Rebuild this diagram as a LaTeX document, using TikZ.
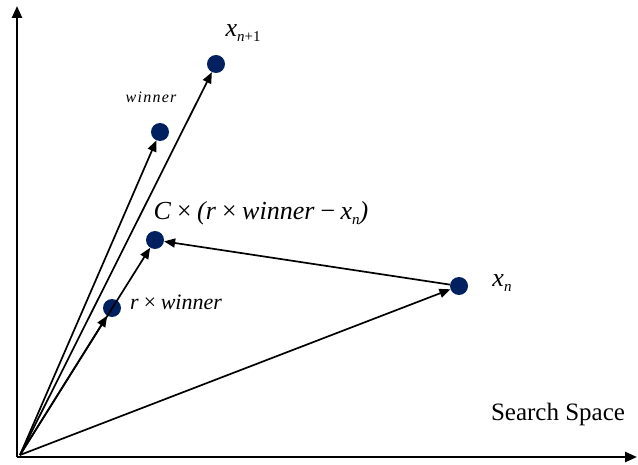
\documentclass[tikz,border=0pt]{standalone}
\usepackage{fontspec}
\setmainfont{Liberation Serif}
\usetikzlibrary{arrows.meta,positioning}
\definecolor{dotblue}{RGB}{0,32,96}
\newcommand{\sub}[1]{\raisebox{-0.4ex}{\fontsize{15}{15}\selectfont #1}}

\begin{document}
\begin{tikzpicture}[
  x=1pt, y=-1pt,
  >={Triangle[length=11pt,width=9pt]},
  dot/.style={circle, fill=dotblue, inner sep=0pt, minimum size=18pt},
  vec/.style={->, line width=1.7pt},
  axis/.style={->, line width=2.5pt, >={Triangle[length=12pt,width=10pt]}},
  lbl/.style={font=\itshape\fontsize{26}{26}\selectfont, inner sep=0pt}
]
\useasboundingbox (0,0) rectangle (638,465);

% axes
\coordinate (corner) at (17,457);
\draw[axis] (corner) -- (17,6);
\draw[axis] (corner) -- (637,457);
\coordinate (origin) at (20,455);

% positions
\node[dot] (xnext) at (216,64) {};
\node[dot] (winner) at (160,132) {};
\node[dot] (step) at (155,240) {};
\node[dot] (rwin) at (112,308) {};
\node[dot] (xn) at (459,286) {};

% vectors
\draw[vec] (origin) -- (xnext);
\draw[vec] (origin) -- (winner);
\draw[vec] (origin) -- (step);
\draw[vec] (origin) -- (rwin);
\draw[vec] (origin) -- (xn);
\draw[vec] (xn) -- (step);

% labels
\node[lbl] (lxnext) at (243,33) {x\sub{\textit{n}\upshape+1}};
\node[lbl, font=\itshape\fontsize{16}{16}\selectfont] (lwinner) at (151,97) {\addfontfeature{LetterSpace=8}winner};
\node[lbl] (lstep) at (261,213) {C\,×\,(r\,×\,winner\,−\,x\sub{\textit{n}})};
\node[lbl, font=\itshape\fontsize{22}{22}\selectfont] (lrwin) at (176,302) {r\,×\,winner};
\node[lbl] (lxn) at (502,283) {x\sub{\textit{n}}};
\node[font=\fontsize{25}{25}\selectfont, inner sep=0pt] (space) at (558,414) {Search Space};
\end{tikzpicture}
\end{document}
